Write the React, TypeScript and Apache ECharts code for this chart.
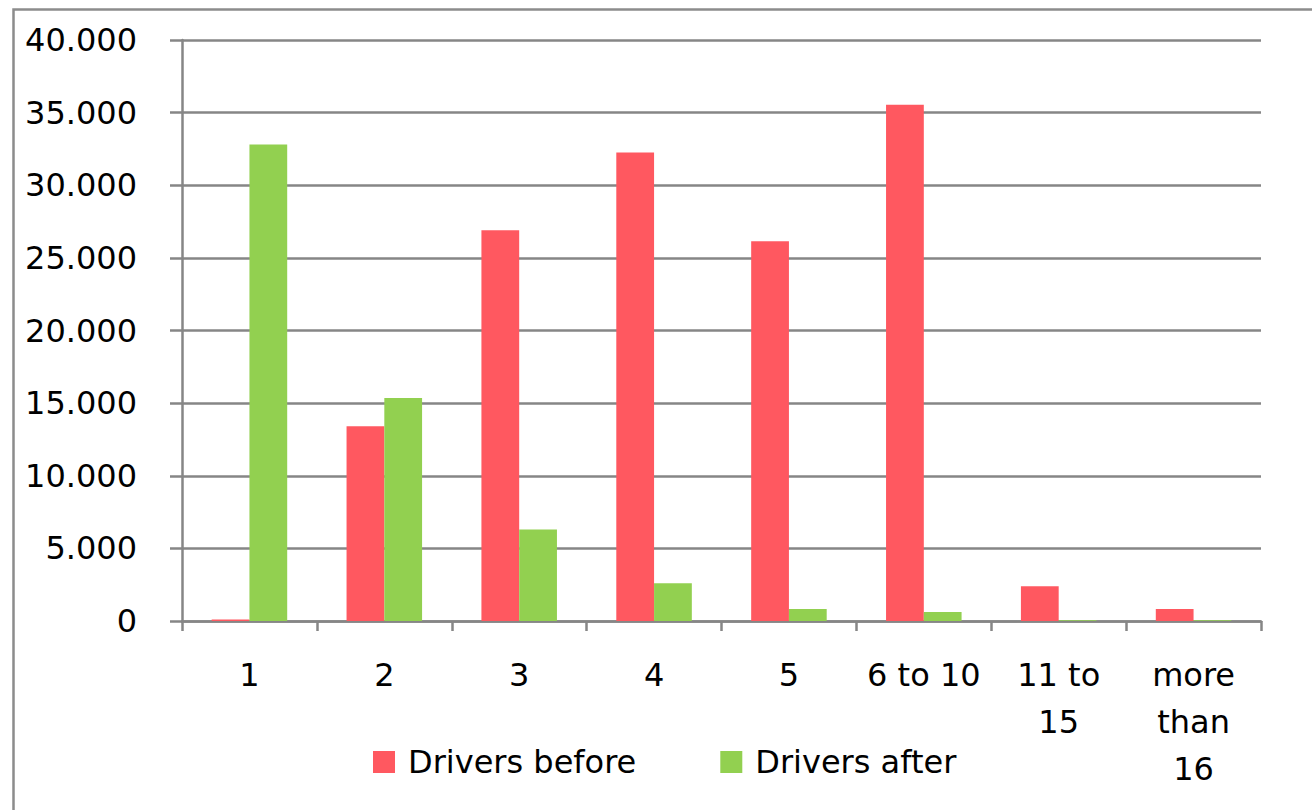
import React, { useEffect, useRef } from "react";
import * as echarts from "echarts";

const categories = ["1", "2", "3", "4", "5", "6 to 10", "11 to\n15", "more\nthan\n16"];
const driversBefore = [100, 13400, 26900, 32250, 26150, 35550, 2400, 830];
const driversAfter = [32800, 15350, 6300, 2600, 830, 620, 60, 60];
const yTicks = { min: 0, max: 40000, interval: 5000 };

const FONT = "DejaVu Sans";
const AXIS = "#868686";

export default function App() {
  const ref = useRef<HTMLDivElement>(null);
  useEffect(() => {
    document.body.style.margin = "0";
    const chart = echarts.init(ref.current!, null, { renderer: "svg" });
    chart.setOption({
      animation: false,
      backgroundColor: "#ffffff",
      textStyle: { fontFamily: FONT },
      graphic: [
        {
          type: "rect",
          left: 11,
          top: 7,
          shape: { width: 1400, height: 900 },
          style: { fill: "none", stroke: "#8c8c8c", lineWidth: 2.5 },
          silent: true,
        },
      ],
      grid: { left: 182, right: 51, top: 40, bottom: 189, containLabel: false },
      legend: {
        left: 368,
        top: 741,
        itemWidth: 22,
        itemHeight: 22,
        itemGap: 84,
        icon: "rect",
        textStyle: {
          fontSize: 32,
          color: "#000",
          fontFamily: FONT,
          padding: [0, 0, 0, 8],
        },
        data: ["Drivers before", "Drivers after"],
      },
      xAxis: {
        type: "category",
        data: categories,
        axisLine: { lineStyle: { color: AXIS, width: 2.5 } },
        axisTick: { show: true, length: 10, lineStyle: { color: AXIS, width: 2.5 } },
        axisLabel: {
          fontSize: 32,
          color: "#000",
          fontFamily: FONT,
          lineHeight: 47,
          margin: 30,
          interval: 0,
        },
      },
      yAxis: {
        type: "value",
        min: yTicks.min,
        max: yTicks.max,
        interval: yTicks.interval,
        axisLine: { show: true, lineStyle: { color: AXIS, width: 2.5 } },
        axisTick: { show: true, length: 12, lineStyle: { color: AXIS, width: 2.5 } },
        splitLine: { show: true, lineStyle: { color: AXIS, width: 2.5 } },
        axisLabel: {
          fontSize: 32,
          color: "#000",
          fontFamily: FONT,
          margin: 45,
          formatter: (v: number) =>
            v === 0 ? "0" : String(Math.round(v)).replace(/\B(?=(\d{3})+(?!\d))/g, "."),
        },
      },
      series: [
        {
          name: "Drivers before",
          type: "bar",
          data: driversBefore,
          itemStyle: { color: "#FF5860" },
          barGap: "0%",
          barCategoryGap: "44%",
        },
        {
          name: "Drivers after",
          type: "bar",
          data: driversAfter,
          itemStyle: { color: "#92D050" },
          barGap: "0%",
          barCategoryGap: "44%",
        },
      ],
    });
    return () => chart.dispose();
  }, []);
  return <div ref={ref} style={{ width: 1312, height: 810 }} />;
}
